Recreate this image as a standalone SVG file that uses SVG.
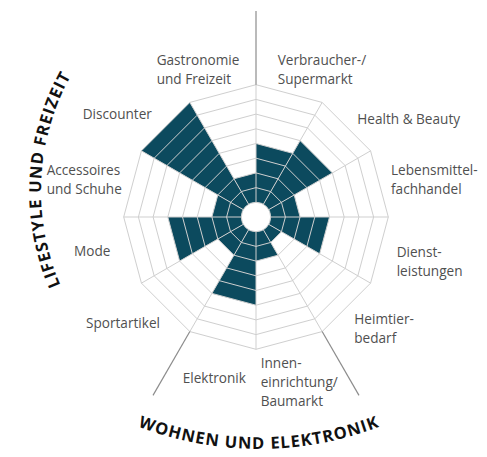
<svg xmlns="http://www.w3.org/2000/svg" width="487" height="457" viewBox="0 0 487 457">
<style>
.lbl{font-family:"Open Sans","Noto Sans","Liberation Sans",sans-serif;font-size:13.6px;fill:#505050}
.cat{font-family:"Open Sans","Noto Sans","Liberation Sans",sans-serif;font-size:16.5px;font-weight:700;fill:#111;letter-spacing:1px}
.fill{fill:#0c4a5e}
.grid{fill:none;stroke:#cfcfcf;stroke-width:1}
.axis{stroke:#8c8c8c;stroke-width:1.2;fill:none}
</style>
<defs>
<path id="arcLeft" d="M71.24,307.11 A238,238 0 0 1 84.04,54.49"/>
<path id="arcBottom" d="M116.2,417.3 A338,338 0 0 0 401.8,417.3"/>
</defs>
<rect width="487" height="457" fill="#fff"/>
<g id="chart" transform="translate(256,217)">
<g id="sectors">
<polygon class="fill" points="0,0 0,-73.5 36.75,-63.65"/>
<polygon class="fill" points="0,0 44.1,-76.38 76.38,-44.1"/>
<polygon class="fill" points="0,0 38.19,-22.05 44.1,0"/>
<polygon class="fill" points="0,0 73.5,0 63.65,36.75"/>
<polygon class="fill" points="0,0 25.46,14.7 14.7,25.46"/>
<polygon class="fill" points="0,0 22.05,38.19 0,44.1"/>
<polygon class="fill" points="0,0 0,88.2 -44.1,76.38"/>
<polygon class="fill" points="0,0 -22.05,38.19 -38.19,22.05"/>
<polygon class="fill" points="0,0 -76.38,44.1 -88.2,0"/>
<polygon class="fill" points="0,0 -44.1,0 -38.19,-22.05"/>
<polygon class="fill" points="0,0 -114.57,-66.15 -66.15,-114.57"/>
<polygon class="fill" points="0,0 -22.05,-38.19 0,-44.1"/>
</g>
<g id="grid" class="grid">
<polygon points="0,-29.4 14.7,-25.46 25.46,-14.7 29.4,0 25.46,14.7 14.7,25.46 0,29.4 -14.7,25.46 -25.46,14.7 -29.4,0 -25.46,-14.7 -14.7,-25.46"/>
<polygon points="0,-44.1 22.05,-38.19 38.19,-22.05 44.1,0 38.19,22.05 22.05,38.19 0,44.1 -22.05,38.19 -38.19,22.05 -44.1,0 -38.19,-22.05 -22.05,-38.19"/>
<polygon points="0,-58.8 29.4,-50.92 50.92,-29.4 58.8,0 50.92,29.4 29.4,50.92 0,58.8 -29.4,50.92 -50.92,29.4 -58.8,0 -50.92,-29.4 -29.4,-50.92"/>
<polygon points="0,-73.5 36.75,-63.65 63.65,-36.75 73.5,0 63.65,36.75 36.75,63.65 0,73.5 -36.75,63.65 -63.65,36.75 -73.5,0 -63.65,-36.75 -36.75,-63.65"/>
<polygon points="0,-88.2 44.1,-76.38 76.38,-44.1 88.2,0 76.38,44.1 44.1,76.38 0,88.2 -44.1,76.38 -76.38,44.1 -88.2,0 -76.38,-44.1 -44.1,-76.38"/>
<polygon points="0,-102.9 51.45,-89.11 89.11,-51.45 102.9,0 89.11,51.45 51.45,89.11 0,102.9 -51.45,89.11 -89.11,51.45 -102.9,0 -89.11,-51.45 -51.45,-89.11"/>
<polygon points="0,-117.6 58.8,-101.84 101.84,-58.8 117.6,0 101.84,58.8 58.8,101.84 0,117.6 -58.8,101.84 -101.84,58.8 -117.6,0 -101.84,-58.8 -58.8,-101.84"/>
<polygon points="0,-132.3 66.15,-114.57 114.57,-66.15 132.3,0 114.57,66.15 66.15,114.57 0,132.3 -66.15,114.57 -114.57,66.15 -132.3,0 -114.57,-66.15 -66.15,-114.57"/>
<path d="M0,0V-132.3M0,0L66.15,-114.57M0,0L114.57,-66.15M0,0H132.3M0,0L114.57,66.15M0,0L66.15,114.57M0,0V132.3M0,0L-66.15,114.57M0,0L-114.57,66.15M0,0H-132.3M0,0L-114.57,-66.15M0,0L-66.15,-114.57"/>
</g>
<circle id="hole" r="14.7" fill="#fff" stroke="#cfcfcf" stroke-width="1"/>
</g>
<g id="connectors" transform="translate(256,217)">
<path class="axis" d="M0,-132.3V-206"/>
<path class="axis" d="M66.15,114.57L103,178.4"/>
<path class="axis" d="M-66.15,114.57L-103,178.4"/>
</g>
<g id="label-gastronomie"><text class="lbl" x="156.7" y="65">Gastronomie</text><text class="lbl" x="156.7" y="84.3">und Freizeit</text></g>
<g id="label-verbraucher"><text class="lbl" x="277.7" y="65">Verbraucher-/</text><text class="lbl" x="277.7" y="84.3">Supermarkt</text></g>
<g id="label-health"><text class="lbl" x="357.3" y="124">Health &amp; Beauty</text></g>
<g id="label-lebensmittel"><text class="lbl" x="391" y="175">Lebensmittel-</text><text class="lbl" x="391" y="194">fachhandel</text></g>
<g id="label-dienst"><text class="lbl" x="396.7" y="256.7">Dienst-</text><text class="lbl" x="396.7" y="275.5">leistungen</text></g>
<g id="label-heimtier"><text class="lbl" x="354.3" y="324.3">Heimtier-</text><text class="lbl" x="354.3" y="343.3">bedarf</text></g>
<g id="label-innen"><text class="lbl" x="260.7" y="367.7">Innen-</text><text class="lbl" x="260.7" y="386.7">einrichtung/</text><text class="lbl" x="260.7" y="405.7">Baumarkt</text></g>
<g id="label-elektronik"><text class="lbl" x="182.7" y="383.3">Elektronik</text></g>
<g id="label-sport"><text class="lbl" x="86" y="328.3">Sportartikel</text></g>
<g id="label-mode"><text class="lbl" x="74" y="256">Mode</text></g>
<g id="label-accessoires"><text class="lbl" x="46.7" y="174.5">Accessoires</text><text class="lbl" x="46.7" y="193.5">und Schuhe</text></g>
<g id="label-discounter"><text class="lbl" x="82.7" y="119">Discounter</text></g>
<g id="cat-lifestyle"><text class="cat"><textPath href="#arcLeft" startOffset="50%" text-anchor="middle">LIFESTYLE UND FREIZEIT</textPath></text></g>
<g id="cat-wohnen"><text class="cat"><textPath href="#arcBottom" startOffset="50%" text-anchor="middle">WOHNEN UND ELEKTRONIK</textPath></text></g>
</svg>
